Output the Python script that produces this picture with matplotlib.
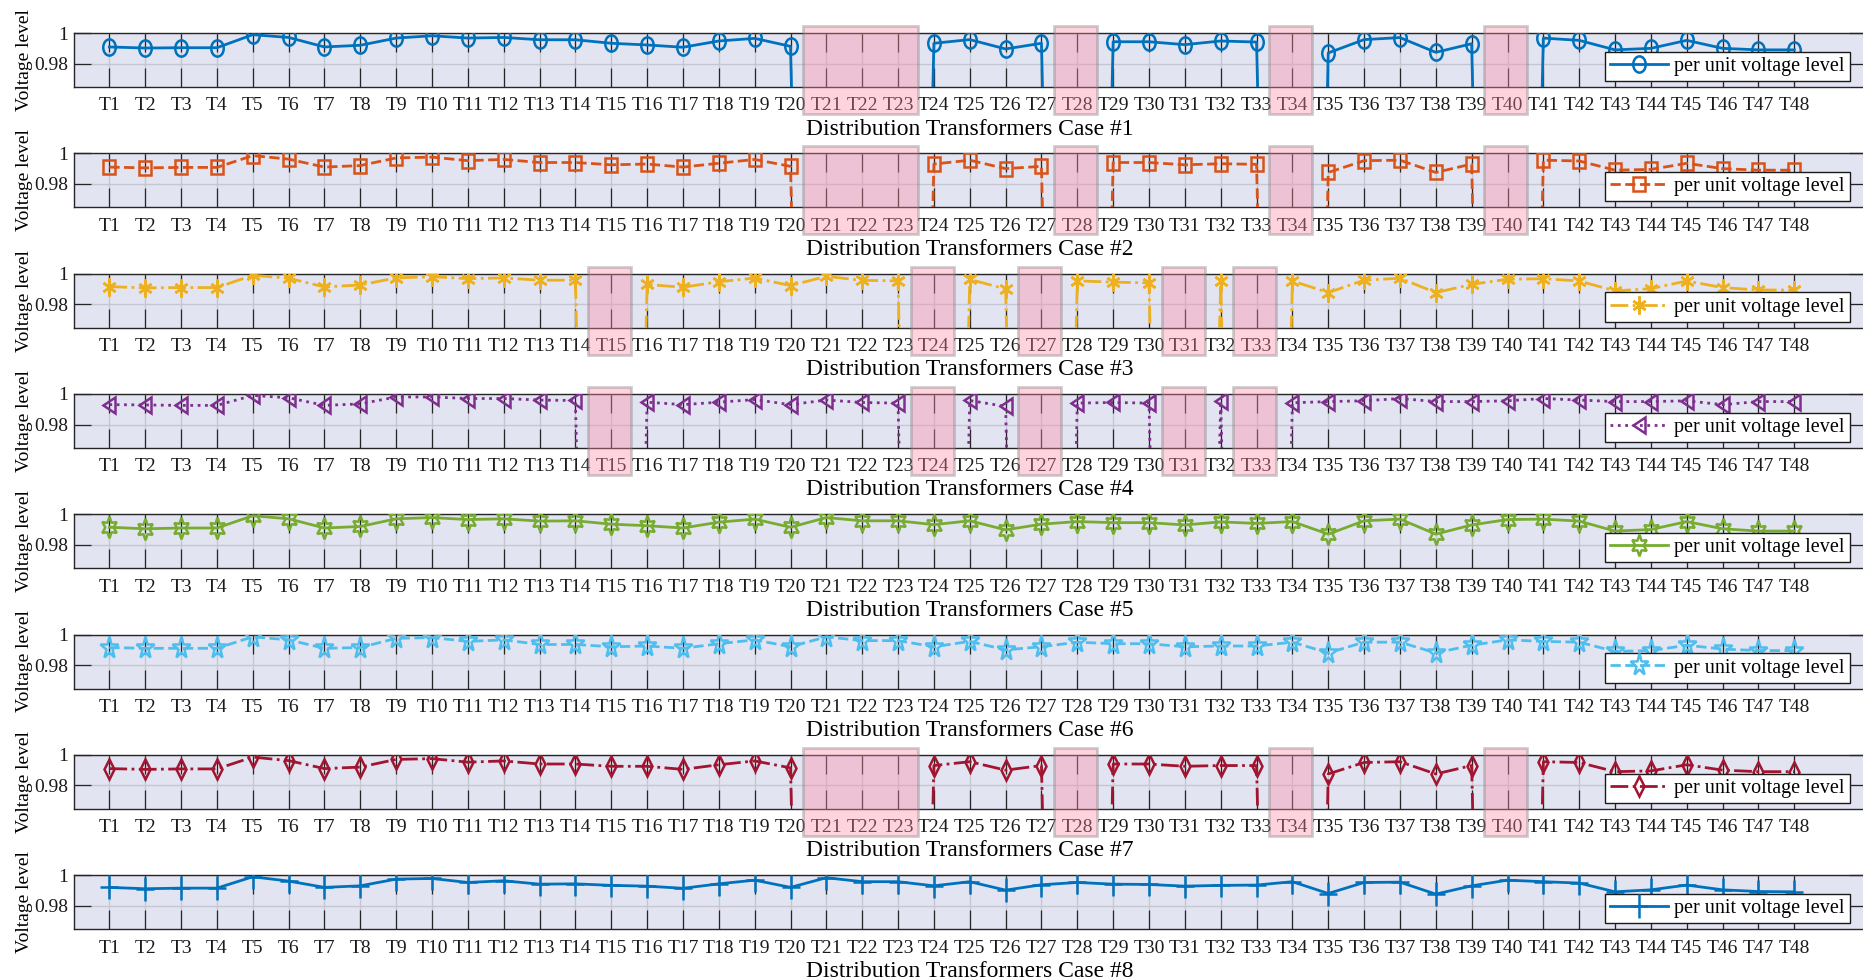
import matplotlib
matplotlib.use("Agg")
import matplotlib.pyplot as plt
from matplotlib.markers import MarkerStyle
from matplotlib.patches import Rectangle
from matplotlib.transforms import Affine2D, blended_transform_factory
import numpy as np

plt.rcParams['font.family'] = ['Liberation Serif', 'DejaVu Serif']

# transformer labels T1..T48
transformers = ['T%d' % i for i in range(1, 49)]

# per unit voltage for each case (0 = transformer out of service)
case1 = [0.9909, 0.9902, 0.9904, 0.9904, 0.9989, 0.9971, 0.9909, 0.9920, 0.9967, 0.9982,
         0.9967, 0.9971, 0.9956, 0.9956, 0.9933, 0.9922, 0.9907, 0.9948, 0.9965, 0.9913,
         0.0, 0.0, 0.0, 0.9933, 0.9957, 0.9896, 0.9933, 0.0, 0.9943, 0.9943,
         0.9924, 0.9948, 0.9941, 0.0, 0.9870, 0.9957, 0.9970, 0.9874, 0.9930, 0.0,
         0.9967, 0.9952, 0.9890, 0.9900, 0.9952, 0.9900, 0.9890, 0.9890]
case2 = [0.9910, 0.9905, 0.9908, 0.9908, 0.9985, 0.9962, 0.9910, 0.9920, 0.9970, 0.9975,
         0.9952, 0.9960, 0.9940, 0.9940, 0.9925, 0.9930, 0.9910, 0.9935, 0.9960, 0.9915,
         0.0, 0.0, 0.0, 0.9930, 0.9955, 0.9900, 0.9915, 0.0, 0.9940, 0.9940,
         0.9925, 0.9932, 0.9928, 0.0, 0.9875, 0.9952, 0.9955, 0.9875, 0.9930, 0.0,
         0.9955, 0.9950, 0.9890, 0.9895, 0.9935, 0.9900, 0.9890, 0.9890]
case3 = [0.9915, 0.9907, 0.9909, 0.9909, 0.9989, 0.9970, 0.9913, 0.9926, 0.9972, 0.9980,
         0.9967, 0.9972, 0.9957, 0.9957, 0.0, 0.9929, 0.9911, 0.9947, 0.9971, 0.9922,
         0.9982, 0.9956, 0.9953, 0.0, 0.9962, 0.9900, 0.0, 0.9953, 0.9944, 0.9940,
         0.0, 0.9951, 0.0, 0.9952, 0.9876, 0.9957, 0.9970, 0.9876, 0.9930, 0.9963,
         0.9967, 0.9952, 0.9887, 0.9902, 0.9952, 0.9909, 0.9893, 0.9893]
case4 = [0.9930, 0.9928, 0.9925, 0.9925, 0.9990, 0.9975, 0.9925, 0.9935, 0.9980, 0.9980,
         0.9970, 0.9970, 0.9960, 0.9957, 0.0, 0.9946, 0.9930, 0.9946, 0.9963, 0.9930,
         0.9960, 0.9944, 0.9940, 0.0, 0.9957, 0.9918, 0.0, 0.9940, 0.9944, 0.9940,
         0.0, 0.9953, 0.0, 0.9942, 0.9950, 0.9955, 0.9970, 0.9950, 0.9950, 0.9955,
         0.9970, 0.9960, 0.9950, 0.9950, 0.9955, 0.9930, 0.9950, 0.9950]
case5 = [0.9915, 0.9905, 0.9910, 0.9910, 0.9990, 0.9970, 0.9910, 0.9920, 0.9970, 0.9978,
         0.9965, 0.9970, 0.9955, 0.9957, 0.9935, 0.9925, 0.9910, 0.9948, 0.9968, 0.9915,
         0.9978, 0.9957, 0.9957, 0.9932, 0.9957, 0.9898, 0.9935, 0.9952, 0.9945, 0.9945,
         0.9930, 0.9950, 0.9940, 0.9952, 0.9870, 0.9957, 0.9968, 0.9870, 0.9930, 0.9965,
         0.9968, 0.9955, 0.9890, 0.9900, 0.9952, 0.9905, 0.9890, 0.9890]
case6 = [0.9915, 0.9910, 0.9910, 0.9910, 0.9985, 0.9965, 0.9910, 0.9915, 0.9975, 0.9980,
         0.9955, 0.9965, 0.9935, 0.9935, 0.9920, 0.9925, 0.9910, 0.9940, 0.9965, 0.9920,
         0.9985, 0.9960, 0.9960, 0.9920, 0.9955, 0.9900, 0.9920, 0.9950, 0.9940, 0.9940,
         0.9920, 0.9925, 0.9925, 0.9950, 0.9880, 0.9950, 0.9950, 0.9880, 0.9930, 0.9965,
         0.9955, 0.9950, 0.9890, 0.9895, 0.9930, 0.9905, 0.9895, 0.9895]
case7 = [0.9910, 0.9905, 0.9908, 0.9908, 0.9985, 0.9962, 0.9910, 0.9920, 0.9970, 0.9975,
         0.9952, 0.9960, 0.9940, 0.9940, 0.9925, 0.9925, 0.9905, 0.9935, 0.9960, 0.9915,
         0.0, 0.0, 0.0, 0.9930, 0.9955, 0.9900, 0.9930, 0.0, 0.9940, 0.9940,
         0.9925, 0.9930, 0.9930, 0.0, 0.9875, 0.9950, 0.9955, 0.9875, 0.9930, 0.0,
         0.9955, 0.9950, 0.9890, 0.9895, 0.9935, 0.9900, 0.9890, 0.9890]
case8 = [0.9920, 0.9911, 0.9915, 0.9915, 0.9989, 0.9961, 0.9920, 0.9930, 0.9974, 0.9978,
         0.9952, 0.9963, 0.9941, 0.9943, 0.9933, 0.9928, 0.9914, 0.9943, 0.9967, 0.9920,
         0.9983, 0.9957, 0.9957, 0.9930, 0.9957, 0.9902, 0.9937, 0.9952, 0.9941, 0.9939,
         0.9928, 0.9933, 0.9935, 0.9957, 0.9880, 0.9952, 0.9954, 0.9876, 0.9930, 0.9967,
         0.9957, 0.9948, 0.9891, 0.9904, 0.9935, 0.9904, 0.9893, 0.9891]

cases = [case1, case2, case3, case4, case5, case6, case7, case8]

# highlighted outages (first, last transformer) per case
outages_a = [(21, 23), (28, 28), (34, 34), (40, 40)]
outages_b = [(15, 15), (24, 24), (27, 27), (31, 31), (33, 33)]
outages = [outages_a, outages_a, outages_b, outages_b, [], [], outages_a, []]

colors = ['#0072BD', '#D95319', '#EDB120', '#7E2F8E',
          '#77AC30', '#4DBEEE', '#A2142F', '#0072BD']
styles = ['-', '--', '-.', ':', '-', '--', '-.', '-']
markers = ['o', 's', (6, 2, 0), '<', (6, 1, 0), '*', 'd', '+']
msizes = [9, 8, 10, 9, 12, 13, 8, 13]

fig = plt.figure(figsize=(18.63, 9.8), dpi=100)
W, H = 1863.0, 980.0
x0, x1 = 73.5, 1866.0
ax_h = 54.0
bg = '#e3e4f1'
stretch = Affine2D().scale(1.0, 1.3)

x = np.arange(1, 49)
for i, vals in enumerate(cases):
    top = 33.0 + i * 120.3
    ax = fig.add_axes([x0 / W, 1 - (top + ax_h) / H, (x1 - x0) / W, ax_h / H])
    ax.set_facecolor(bg)
    ms = MarkerStyle(markers[i], fillstyle='none', transform=stretch)
    ax.plot(x, vals, color=colors[i], linestyle=styles[i], linewidth=2.0,
            marker=ms, markersize=msizes[i], markeredgewidth=1.8,
            label='per unit voltage level', zorder=3)
    ax.set_xlim(0, 50)
    ax.set_ylim(0.9648, 1.0)
    ax.set_xticks(x)
    ax.set_xticklabels(transformers)
    ax.set_yticks([0.98, 1.0])
    ax.set_yticklabels(['0.98', '1'])
    ax.grid(True, color='#c4c6d2', linewidth=1.0)
    ax.set_axisbelow(True)
    ax.tick_params(axis='x', direction='in', length=13.5, width=0.9, top=True,
                   labelsize=14, pad=7.5, colors='#262626', labelcolor='#1a1a1a')
    ax.tick_params(axis='y', direction='in', length=12, width=0.9, right=True,
                   labelsize=14, pad=4, colors='#262626', labelcolor='#1a1a1a')
    for s in ax.spines.values():
        s.set_color('#262626')
        s.set_linewidth(1.0)
    ax.set_ylabel('Voltage level', fontsize=14, labelpad=1)
    ax.set_xlabel('Distribution Transformers Case #%d' % (i + 1), fontsize=17, labelpad=3)
    ax.legend(loc='lower right', bbox_to_anchor=(0.991, 0.11), borderaxespad=0,
              fontsize=14.5, handlelength=2.9, handletextpad=0.3, borderpad=0.25,
              fancybox=False, framealpha=1, edgecolor='#1a1a1a')
    trans = blended_transform_factory(ax.transData, ax.transAxes)
    for lo, hi in outages[i]:
        r = Rectangle((lo - 0.65, -0.5), hi - lo + 1.2, 1.63, transform=trans,
                      facecolor='#ff8ca6', alpha=0.38, edgecolor='#808080',
                      linewidth=2.0, clip_on=False, zorder=5)
        ax.add_patch(r)

fig.savefig('out.png', dpi=100)
